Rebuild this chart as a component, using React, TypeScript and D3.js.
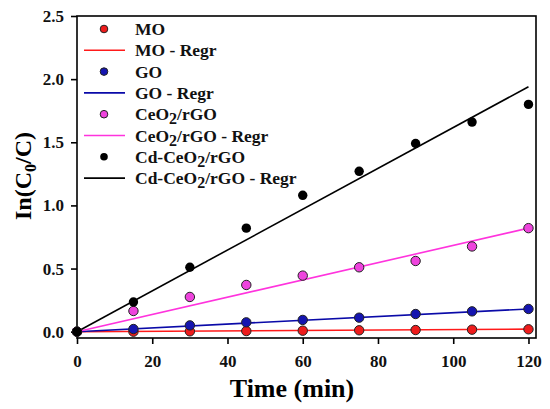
import React, {useEffect, useRef} from "react";
import * as d3 from "d3";

// Sampling times (min)
const times = [0, 15, 30, 45, 60, 75, 90, 105, 120];

// ln(C0/C) values
const moValues = [0, 0.0, 0.003, 0.005, 0.008, 0.011, 0.013, 0.016, 0.019];
const goValues = [0, 0.021, 0.05, 0.074, 0.093, 0.111, 0.14, 0.161, 0.18];
const ceValues = [0, 0.164, 0.275, 0.37, 0.444, 0.51, 0.56, 0.675, 0.82];
const cdValues = [0, 0.235, 0.51, 0.82, 1.08, 1.27, 1.49, 1.66, 1.8];

// Regression line value at t = 120 (lines go through the origin)
const regrEnds = [0.02, 0.18, 0.82, 1.94];

const seriesNames = ["MO", "GO", "CeO2/rGO", "Cd-CeO2/rGO"];
const pointColors = ["#ee1c1c", "#1515b0", "#ee44dd", "#000000"];
const lineColors = ["#ff1a1a", "#0a0aa8", "#ff33dd", "#000000"];

const xTicks = [0, 20, 40, 60, 80, 100, 120];
const yTicks = [0, 0.5, 1.0, 1.5, 2.0, 2.5];

const WIDTH = 550;
const HEIGHT = 409;
const FONT = "'Liberation Serif', 'Times New Roman', serif";

const App: React.FC = () => {
	const svgRef = useRef<SVGSVGElement>(null);

	useEffect(() => {
		const svg = d3.select(svgRef.current);
		svg.selectAll("*").remove();

		const x = d3.scaleLinear().domain([0, 122]).range([77, 536]);
		const y = d3.scaleLinear().domain([-0.05, 2.5]).range([338, 16]);

		const allValues = [moValues, goValues, ceValues, cdValues];

		// Frame
		svg
			.append("rect")
			.attr("x", x(0))
			.attr("y", y(2.5))
			.attr("width", x(122) - x(0))
			.attr("height", y(-0.05) - y(2.5))
			.attr("fill", "none")
			.attr("stroke", "#000")
			.attr("stroke-width", 1.6);

		// X axis
		const xAxis = svg
			.append("g")
			.attr("transform", `translate(0, ${y(-0.05)})`)
			.call(
				d3
					.axisBottom(x)
					.tickValues(xTicks)
					.tickSize(6)
					.tickPadding(11)
					.tickFormat(d3.format("d"))
			);
		xAxis.select(".domain").remove();
		xAxis.selectAll("line").attr("stroke-width", 1.6);
		xAxis
			.selectAll("text")
			.style("font-family", FONT)
			.style("font-size", "17px")
			.style("font-weight", "bold")
			.attr("fill", "#111");

		// Y axis
		const yAxis = svg
			.append("g")
			.attr("transform", `translate(${x(0)}, 0)`)
			.call(
				d3
					.axisLeft(y)
					.tickValues(yTicks)
					.tickSize(6)
					.tickPadding(7)
					.tickFormat(d3.format(".1f"))
			);
		yAxis.select(".domain").remove();
		yAxis.selectAll("line").attr("stroke-width", 1.6);
		yAxis
			.selectAll("text")
			.style("font-family", FONT)
			.style("font-size", "17px")
			.style("font-weight", "bold")
			.attr("fill", "#111");

		// Axis titles
		svg
			.append("text")
			.attr("x", 292)
			.attr("y", 397)
			.attr("text-anchor", "middle")
			.style("font-family", FONT)
			.style("font-size", "26px")
			.style("font-weight", "bold")
			.text("Time (min)");

		const yTitle = svg
			.append("text")
			.attr("transform", "translate(31, 176) rotate(-90)")
			.attr("text-anchor", "middle")
			.style("font-family", FONT)
			.style("font-size", "24px")
			.style("font-weight", "bold");
		yTitle.append("tspan").text("In(C");
		yTitle.append("tspan").attr("dy", 5).style("font-size", "16px").text("0");
		yTitle.append("tspan").attr("dy", -5).text("/C)");

		// Regression lines
		regrEnds.forEach((end, i) => {
			svg
				.append("line")
				.attr("x1", x(0))
				.attr("y1", y(0))
				.attr("x2", x(120))
				.attr("y2", y(end))
				.attr("stroke", lineColors[i])
				.attr("stroke-width", 1.6);
		});

		// Data points
		allValues.forEach((vals, i) => {
			svg
				.append("g")
				.selectAll("circle")
				.data(vals)
				.enter()
				.append("circle")
				.attr("cx", (_, j) => x(times[j]))
				.attr("cy", (d) => y(d))
				.attr("r", 4.7)
				.attr("fill", pointColors[i])
				.attr("stroke", i === 3 ? "none" : "#222")
				.attr("stroke-width", 1);
		});

		// Legend
		const legend = svg.append("g").attr("transform", "translate(0, 29)");
		const rowH = 21.3;
		seriesNames.forEach((name, i) => {
			const pRow = legend.append("g").attr("transform", `translate(0, ${i * 2 * rowH})`);
			pRow
				.append("circle")
				.attr("cx", 104)
				.attr("cy", 0)
				.attr("r", 3.8)
				.attr("fill", pointColors[i])
				.attr("stroke", i === 3 ? "none" : "#222")
				.attr("stroke-width", 1);
			const lRow = legend
				.append("g")
				.attr("transform", `translate(0, ${(i * 2 + 1) * rowH})`);
			lRow
				.append("line")
				.attr("x1", 84)
				.attr("x2", 125)
				.attr("y1", 0)
				.attr("y2", 0)
				.attr("stroke", lineColors[i])
				.attr("stroke-width", 1.6);

			const labels = [name, `${name} - Regr`];
			[pRow, lRow].forEach((row, k) => {
				const t = row
					.append("text")
					.attr("x", 135)
					.attr("y", 6)
					.style("font-family", FONT)
					.style("font-size", "17.5px")
					.style("font-weight", "bold")
					.attr("fill", "#111");
				const label = labels[k];
				const idx = label.indexOf("O2");
				if (idx >= 0) {
					t.append("tspan").text(label.slice(0, idx + 1));
					t.append("tspan").attr("dy", 4).style("font-size", "16px").text("2");
					t.append("tspan").attr("dy", -4).text(label.slice(idx + 2));
				} else {
					t.text(label);
				}
			});
		});
	}, []);

	return (
		<svg
			ref={svgRef}
			width={WIDTH}
			height={HEIGHT}
			style={{position: "absolute", left: 0, top: 0, background: "#fff"}}
		/>
	);
};

export default App;
